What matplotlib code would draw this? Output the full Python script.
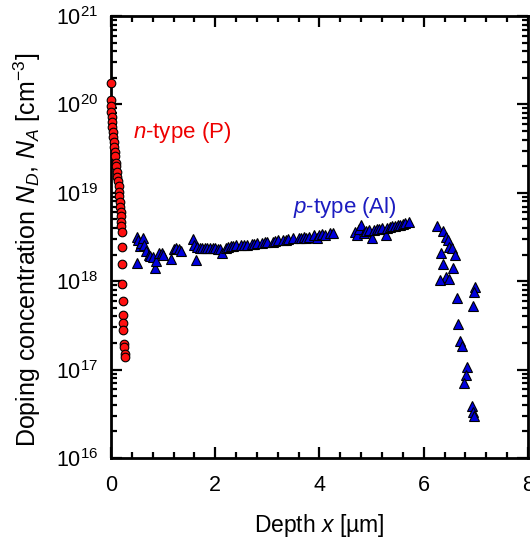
import matplotlib
matplotlib.use("Agg")
import matplotlib.pyplot as plt
from matplotlib.ticker import MultipleLocator, LogLocator

plt.rcParams["font.family"] = ["Liberation Sans", "DejaVu Sans"]
plt.rcParams["mathtext.fontset"] = "custom"
plt.rcParams["mathtext.rm"] = "Liberation Sans"
plt.rcParams["mathtext.it"] = "Liberation Sans:italic"

# n-type (P) profile
p_depth = [0.0, 0.0, 0.0, 0.006, 0.013, 0.019, 0.026, 0.032, 0.045, 0.051,
           0.058, 0.071, 0.077, 0.09, 0.096, 0.109, 0.122, 0.135, 0.147,
           0.154, 0.16, 0.173, 0.18, 0.186, 0.192, 0.199, 0.199, 0.205,
           0.21, 0.21, 0.218, 0.224, 0.224, 0.23, 0.237, 0.25, 0.25, 0.27, 0.27]
p_conc = [1.76e20, 1.12e20, 9.5e19, 8.3e19, 7.2e19, 6.3e19, 5.6e19, 4.9e19,
          4.3e19, 3.8e19, 3.3e19, 2.9e19, 2.6e19, 2.2e19, 2.0e19, 1.74e19,
          1.52e19, 1.35e19, 1.18e19, 1.03e19, 9.1e18, 7.9e18, 6.9e18, 6.1e18,
          5.4e18, 4.7e18, 4.2e18, 3.6e18, 2.45e18, 1.55e18, 9.3e17, 6.0e17,
          4.2e17, 3.35e17, 2.8e17, 1.95e17, 1.78e17, 1.52e17, 1.4e17]

# p-type (Al) profile
al_depth = [0.5, 0.52, 0.55, 0.58, 0.62, 0.64, 0.5, 0.68, 0.72, 0.75, 0.8,
            0.85, 0.87, 0.92, 0.97, 1.0, 1.15, 1.2, 1.25, 1.3, 1.35, 1.58,
            1.6, 1.63,
            1.65, 1.7, 1.75, 1.8, 1.85, 1.9, 1.95, 2.0, 2.05, 2.1, 2.13, 2.2,
            2.25, 2.3, 2.35, 2.4, 2.5, 2.55, 2.6, 2.7, 2.75, 2.8, 2.9, 2.95,
            3.0, 3.1, 3.15, 3.2, 3.3, 3.35, 3.4, 3.5, 3.6, 3.65, 3.7, 3.75,
            3.8, 3.9, 3.95, 4.0, 4.05, 4.1, 4.2, 4.25,
            4.68, 4.72, 4.75, 4.8, 4.85, 4.9, 4.95, 5.0, 5.05, 5.1, 5.15, 5.2,
            5.27, 5.3, 5.35, 5.4, 5.45, 5.5, 5.55, 5.6, 5.65, 5.72,
            6.26, 6.36, 6.42, 6.46, 6.49, 6.55, 6.6, 6.33, 6.36, 6.57, 6.42,
            6.31, 6.49, 6.63, 6.99, 6.97, 6.95, 6.65, 6.70, 6.73, 6.83, 6.81,
            6.78, 6.92, 6.94, 6.97]
al_conc = [3.2e18, 2.9e18, 2.5e18, 2.7e18, 3.1e18, 2.6e18, 1.6e18, 2.2e18,
           2.0e18, 1.95e18, 1.9e18, 1.4e18, 1.7e18, 2.1e18, 2.1e18, 2.0e18,
           1.8e18, 2.3e18, 2.4e18, 2.3e18, 2.2e18, 3.0e18, 2.6e18, 1.75e18,
           2.45e18, 2.4e18, 2.4e18, 2.35e18, 2.4e18, 2.4e18, 2.4e18, 2.35e18,
           2.3e18, 2.3e18, 2.1e18, 2.4e18, 2.45e18, 2.5e18, 2.5e18, 2.55e18,
           2.55e18, 2.6e18, 2.6e18, 2.65e18, 2.65e18, 2.7e18, 2.7e18, 2.75e18,
           2.8e18, 2.8e18, 2.85e18, 2.9e18, 2.95e18, 2.95e18, 3.0e18, 3.05e18,
           3.1e18, 3.1e18, 3.15e18, 3.05e18, 3.2e18, 3.3e18, 3.1e18, 3.35e18,
           3.4e18, 3.3e18, 3.5e18, 3.55e18,
           3.6e18, 3.3e18, 3.9e18, 4.3e18, 3.5e18, 3.7e18, 3.8e18, 3.1e18,
           3.8e18, 3.9e18, 3.9e18, 4.0e18, 3.3e18, 4.0e18, 4.1e18, 4.2e18,
           4.2e18, 4.3e18, 4.3e18, 4.4e18, 4.5e18, 4.7e18,
           4.2e18, 3.7e18, 3.2e18, 2.95e18, 2.45e18, 2.35e18, 2.0e18, 2.1e18,
           1.55e18, 1.4e18, 1.12e18, 1.02e18, 1.05e18, 6.5e17, 8.7e17, 7.6e17,
           5.2e17, 3.3e17, 2.1e17, 1.85e17, 1.07e17, 8.7e16, 7.1e16, 3.9e16,
           3.3e16, 3.0e16]

fig = plt.figure(figsize=(5.30, 5.44), dpi=100)
ax = fig.add_axes([0.2094, 0.158, 0.7868, 0.8126])

ax.plot(al_depth, al_conc, linestyle="none", marker="^", markersize=7.5,
        markerfacecolor="#0000dd", markeredgecolor="black", markeredgewidth=0.8,
        clip_on=False, zorder=3)
ax.plot(p_depth, p_conc, linestyle="none", marker="o", markersize=6.2,
        markerfacecolor="#ff1010", markeredgecolor="black", markeredgewidth=0.8,
        clip_on=False, zorder=4)

ax.set_yscale("log")
ax.set_xlim(0, 8)
ax.set_ylim(1e16, 1e21)
ax.xaxis.set_major_locator(MultipleLocator(2))
ax.xaxis.set_minor_locator(MultipleLocator(0.4))
ax.yaxis.set_major_locator(LogLocator(base=10, numticks=10))
ax.yaxis.set_minor_locator(LogLocator(base=10, subs=range(2, 10), numticks=20))

ax.tick_params(which="both", direction="in", top=True, right=True,
               width=1.6, labelsize=15.5)
ax.tick_params(which="major", length=8)
ax.tick_params(axis="x", which="major", pad=12)
ax.tick_params(axis="y", which="major", pad=9)
ax.tick_params(which="minor", length=4)
for sp in ax.spines.values():
    sp.set_linewidth(2)

ax.set_xlabel("Depth $x$ [µm]", fontsize=16.5, labelpad=12)
ax.set_ylabel("Doping concentration $N_D$, $N_A$ [cm$^{-3}$]", fontsize=18,
              labelpad=8)
ax.yaxis.set_label_coords(-0.162, 0.47)

ax.text(0.42, 4.8e19, "$n$-type (P)", color="#ee0000", fontsize=16,
        ha="left", va="center")
ax.text(3.49, 6.9e18, "$p$-type (Al)", color="#1c1cc0", fontsize=16,
        ha="left", va="center")

fig.savefig("out.png", dpi=100)
